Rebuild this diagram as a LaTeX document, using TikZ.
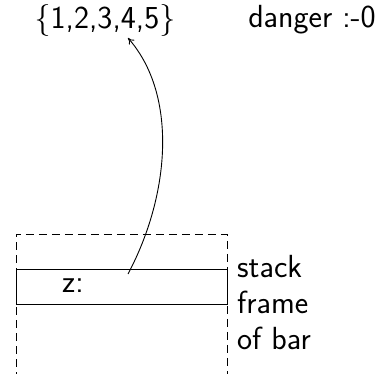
\documentclass[tikz,border=0pt]{standalone}
\usetikzlibrary{arrows.meta}
\begin{document}
\begin{tikzpicture}[x=1pt,y=1pt,
  txt/.style={font=\fontsize{32}{36}\selectfont\sffamily, inner sep=0pt},
  lw/.style={line width=0.9pt},
  dsh/.style={line width=0.9pt, dash pattern=on 8pt off 5pt}]
\useasboundingbox (0,0) rectangle (376,-374);
\node[txt] (set) at (105,-21) {\textbraceleft 1,2,3,4,5\textbraceright};
\node[txt] (danger) at (312,-20) {danger :-0};
\draw[dsh] (16,-380) -- (16,-234) -- (227,-234) -- (227,-380);
\node[draw, lw, minimum width=211pt, minimum height=35pt, inner sep=0pt] (frame) at (121.5,-286.5) {};
\node[txt, anchor=west] (z) at (62,-286) {z:};
\node[txt, anchor=base west, align=left] (lab) at (237,-350) {stack\\frame\\of bar};
\coordinate (start) at (128,-274);
\coordinate (tip) at (128,-38);
\draw[lw, -{To[length=6pt,width=7pt]}] (start) .. controls (170,-195) and (178,-95) .. (tip);
\end{tikzpicture}
\end{document}
